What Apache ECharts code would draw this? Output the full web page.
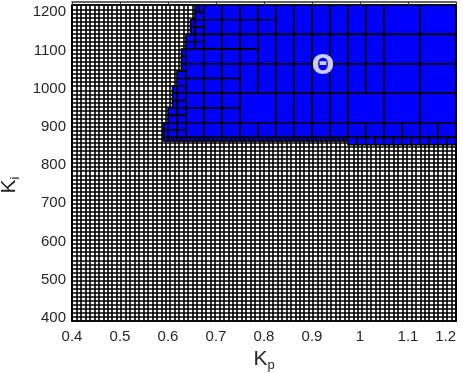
<!DOCTYPE html>
<html>
<head>
<meta charset="utf-8">
<script src="https://cdn.jsdelivr.net/npm/echarts@6/dist/echarts.min.js"></script>
<style>
  html, body { margin: 0; padding: 0; background: #fff; }
  #chart { width: 463px; height: 373px; }
</style>
</head>
<body>
<div id="chart"></div>
<script>
// axis ranges and tick labels
var xMin = 0.4, xMax = 1.2;
var yMin = 392, yMax = 1219;
var xTicks = [0.4, 0.5, 0.6, 0.7, 0.8, 0.9, 1, 1.1, 1.2];
var yTicks = [400, 500, 600, 700, 800, 900, 1000, 1100, 1200];

// blue boxes of the set, one band per row: [yLow, yHigh, [x edges]]
var bands = [
	// top row
	[1142, 1219, [0.825, 0.8625, 0.9, 0.9375, 0.975, 1.0125, 1.05, 1.125, 1.2]],
	[1180.5, 1219, [0.675, 0.7125, 0.75, 0.7875, 0.825]],
	[1142, 1180.5, [0.675, 0.7125, 0.75, 0.7875, 0.825]],
	[1199.75, 1219, [0.65625, 0.665625, 0.675]],
	[1180.5, 1199.75, [0.65625, 0.675]],
	[1161.25, 1180.5, [0.646875, 0.65625, 0.675]],
	[1142, 1161.25, [0.646875, 0.65625, 0.675]],
	// second row
	[1065, 1142, [0.7875, 0.825, 0.8625, 0.9, 0.9375, 0.975, 1.0125, 1.05, 1.125, 1.2]],
	[1103.5, 1142, [0.675, 0.7125, 0.75, 0.7875]],
	[1065, 1103.5, [0.6375, 0.675, 0.7125, 0.75, 0.7875]],
	[1122.75, 1142, [0.6375, 0.65625, 0.675]],
	[1103.5, 1122.75, [0.6375, 0.65625, 0.675]],
	[1084.25, 1103.5, [0.628125, 0.6375]],
	[1065, 1084.25, [0.628125, 0.6375]],
	// third row
	[988, 1065, [0.75, 0.7875, 0.825, 0.8625, 0.9, 0.9375, 0.975, 1.0125, 1.05, 1.125, 1.2]],
	[1026.5, 1065, [0.6375, 0.675, 0.7125, 0.75]],
	[988, 1026.5, [0.6375, 0.675, 0.7125, 0.75]],
	[1045.75, 1065, [0.628125, 0.6375]],
	[1026.5, 1045.75, [0.61875, 0.6375]],
	[1007.25, 1026.5, [0.61875, 0.6375]],
	[988, 1007.25, [0.609375, 0.61875, 0.6375]],
	// fourth row
	[911, 988, [0.75, 0.825, 0.8625, 0.9, 0.9375, 0.975, 1.05, 1.125, 1.2]],
	[949.5, 988, [0.6375, 0.675, 0.7125, 0.75]],
	[911, 949.5, [0.6375, 0.675, 0.7125, 0.75]],
	[968.75, 988, [0.609375, 0.61875, 0.6375]],
	[949.5, 968.75, [0.609375, 0.61875, 0.6375]],
	[930.25, 949.5, [0.6, 0.61875, 0.6375]],
	[911, 930.25, [0.6, 0.61875, 0.6375]],
	// fifth row
	[872.5, 911, [0.6375, 0.675, 0.7125, 0.75, 0.7875, 0.825, 0.8625, 0.9, 0.9375, 0.975, 1.0125, 1.05, 1.0875, 1.125, 1.1625, 1.2]],
	[891.75, 911, [0.590625, 0.6, 0.61875, 0.6375]],
	[872.5, 891.75, [0.590625, 0.6, 0.61875, 0.6375]],
	// bottom strips
	[863, 872.5, [0.590625, 0.6, 0.609375, 0.61875, 0.628125, 0.6375, 0.646875, 0.65625, 0.665625, 0.675,
		0.684375, 0.69375, 0.703125, 0.7125, 0.721875, 0.73125, 0.740625, 0.75, 0.759375, 0.76875,
		0.778125, 0.7875, 0.796875, 0.80625, 0.815625, 0.825, 0.834375, 0.84375, 0.853125, 0.8625,
		0.871875, 0.88125, 0.890625, 0.9, 0.909375, 0.91875, 0.928125, 0.9375, 0.946875, 0.95625,
		0.965625, 0.975]],
	[853.3, 872.5, [0.975, 0.99375, 1.0125, 1.03125, 1.05, 1.06875, 1.0875, 1.10625, 1.125, 1.14375, 1.1625, 1.18125, 1.2]]
];

// label of the set
var thetaPos = [0.923, 1056];
var thetaText = 'Θ';

var textColor = '#262626';
var font = 'Liberation Sans, Arial, sans-serif';

var boxes = [];
for (var i = 0; i < bands.length; i++) {
	var xs = bands[i][2];
	for (var j = 0; j < xs.length - 1; j++) {
		boxes.push([xs[j], xs[j + 1], bands[i][0], bands[i][1]]);
	}
}

function plain(v) { return String(v); }

var myChart = echarts.init(document.getElementById('chart'));
var option = {
	animation: false,
	backgroundColor: '#fff',
	grid: { left: 72, right: 7, top: 5, bottom: 52, show: false, containLabel: false, outerBoundsMode: 'none' },
	xAxis: [{
		type: 'value', position: 'bottom', min: xMin, max: xMax,
		axisLine: { show: true, onZero: false, lineStyle: { color: '#000', width: 1.5 } },
		axisTick: { show: false },
		splitLine: { show: false },
		axisLabel: { customValues: xTicks, formatter: plain, color: textColor, fontSize: 15, fontFamily: font, margin: 8, alignMaxLabel: 'right' },
		name: '{k|K}{s|p}', nameLocation: 'middle', nameGap: 26,
		nameTextStyle: { color: textColor, fontFamily: font, rich: {
			k: { fontSize: 21, fontFamily: font, color: textColor },
			s: { fontSize: 13, fontFamily: font, color: textColor, padding: [12, 0, 0, 0] }
		} }
	}, {
		type: 'value', position: 'top', min: xMin, max: xMax, offset: 3,
		axisLine: { show: true, onZero: false, lineStyle: { color: '#333', width: 1.5 } },
		axisTick: { show: true, inside: true, length: 3, customValues: xTicks, lineStyle: { color: '#333' } },
		axisLabel: { show: false },
		splitLine: { show: false }
	}, {
		// fine mesh of the undecided part
		type: 'value', position: 'bottom', min: xMin, max: xMax, interval: 0.4 / 43,
		axisLine: { show: false }, axisTick: { show: false }, axisLabel: { show: false },
		splitLine: { show: true, lineStyle: { color: '#000', width: 1.6 } }
	}],
	yAxis: [{
		type: 'value', position: 'left', min: yMin, max: yMax,
		axisLine: { show: true, onZero: false, lineStyle: { color: '#000', width: 2 } },
		axisTick: { show: false },
		splitLine: { show: false },
		axisLabel: { customValues: yTicks, formatter: plain, color: textColor, fontSize: 15, fontFamily: font, margin: 6 },
		name: '{k|K}{s|i}', nameLocation: 'middle', nameGap: 47, nameRotate: 90,
		nameTextStyle: { color: textColor, fontFamily: font, padding: [0, 44, 0, 0], rich: {
			k: { fontSize: 21, fontFamily: font, color: textColor },
			s: { fontSize: 13, fontFamily: font, color: textColor, padding: [12, 0, 0, 0] }
		} }
	}, {
		type: 'value', position: 'right', min: yMin, max: yMax,
		axisLine: { show: true, onZero: false, lineStyle: { color: '#000', width: 2 } },
		axisTick: { show: false }, axisLabel: { show: false }, splitLine: { show: false }
	}, {
		type: 'value', position: 'left', min: yMin, max: yMax, interval: 392 / 37,
		axisLine: { show: false }, axisTick: { show: false }, axisLabel: { show: false },
		splitLine: { show: true, lineStyle: { color: '#000', width: 1.6 } }
	}],
	series: [{
		type: 'custom',
		xAxisIndex: 0, yAxisIndex: 0,
		clip: true,
		data: boxes,
		renderItem: function (params, api) {
			var p0 = api.coord([api.value(0), api.value(3)]);
			var p1 = api.coord([api.value(1), api.value(2)]);
			return {
				type: 'rect',
				shape: { x: p0[0], y: p0[1], width: p1[0] - p0[0], height: p1[1] - p0[1] },
				style: { fill: '#0000ff', stroke: '#000', lineWidth: 1.6 }
			};
		}
	}, {
		type: 'scatter',
		xAxisIndex: 0, yAxisIndex: 0,
		symbolSize: 0,
		data: [thetaPos],
		label: {
			show: true, position: 'inside', formatter: thetaText,
			color: '#fff', fontSize: 27, fontWeight: 'bold', fontFamily: 'DejaVu Sans, sans-serif'
		},
		z: 5
	}]
};
myChart.setOption(option);
</script>
</body>
</html>
